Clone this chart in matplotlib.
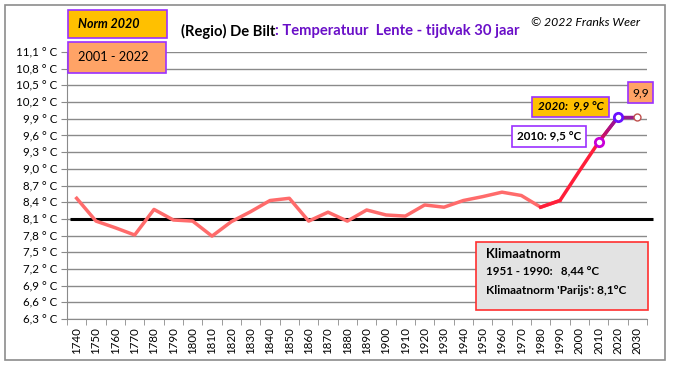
import matplotlib
matplotlib.use("Agg")
import matplotlib.pyplot as plt
from matplotlib.patches import Rectangle
import numpy as np

plt.rcParams['font.family'] = ['Lato', 'DejaVu Sans']

years = [1740, 1750, 1760, 1770, 1780, 1790, 1800, 1810, 1820, 1830,
         1840, 1850, 1860, 1870, 1880, 1890, 1900, 1910, 1920, 1930,
         1940, 1950, 1960, 1970, 1980, 1990, 2000, 2010, 2020, 2030]
temps = [8.47, 8.06, 7.94, 7.81, 8.27, 8.08, 8.06, 7.79, 8.05, 8.23,
         8.43, 8.47, 8.06, 8.22, 8.06, 8.26, 8.17, 8.15, 8.35, 8.31,
         8.43, 8.50, 8.58, 8.52, 8.31, 8.43, 8.96, 9.48, 9.93, 9.93]
norm_paris = 8.1
yticks = [6.3, 6.6, 6.9, 7.2, 7.5, 7.8, 8.1, 8.4, 8.7, 9.0, 9.3, 9.6, 9.9,
          10.2, 10.5, 10.8, 11.1]

W, H = 674, 367
fig = plt.figure(figsize=(W / 100, H / 100), dpi=100)
fig.patch.set_facecolor('white')

def fx(px):
    return px / W

def fy(py):
    return 1 - py / H

# outer border
fig.add_artist(Rectangle((fx(5), fy(360)), fx(660), (355) / H, transform=fig.transFigure,
                         fill=False, edgecolor='#8c8c8c', linewidth=1.2))

ax = fig.add_axes([fx(67), fy(319), fx(647 - 67), (319 - 52) / H])
x = np.arange(len(years))
ax.set_xlim(-0.5, len(years) - 0.5)
ax.set_ylim(6.3, 11.1)

ax.set_yticks(yticks)
ax.set_yticklabels([f"{v:.1f}".replace('.', ',') + " ° C" for v in yticks], fontsize=8.3)
ax.yaxis.grid(True, color='#8a8a8a', linewidth=1.0)
ax.set_axisbelow(True)

ax.set_xticks(x)
ax.set_xticklabels([str(y) for y in years], rotation=90, fontsize=8.3)
ax.set_xticks(np.arange(len(years) + 1) - 0.5, minor=True)
ax.tick_params(axis='x', which='major', length=0, pad=6)
ax.tick_params(axis='x', which='minor', length=4, color='#8a8a8a')
ax.tick_params(axis='y', length=4, color='#8a8a8a', pad=3)

for s in ['top', 'right']:
    ax.spines[s].set_visible(False)
ax.spines['left'].set_color('#8a8a8a')
ax.spines['bottom'].set_color('#8a8a8a')

# norm line
ax.plot([-0.35, len(years) - 0.2], [norm_paris, norm_paris], color='black', linewidth=2.2,
        clip_on=False, zorder=3, solid_capstyle='butt')

# series
i1990 = years.index(1990)
i2010 = years.index(2010)
i2020 = years.index(2020)
ax.plot(x[:i1990 + 1], temps[:i1990 + 1], color='#ff6b6b', linewidth=2.5, zorder=4,
        solid_joinstyle='round')
ax.plot(x[i1990 - 1:i2010 + 1], temps[i1990 - 1:i2010 + 1], color='#ff1f3a', linewidth=2.5,
        zorder=4, solid_joinstyle='round')
n = 20
xs = np.linspace(x[i2010], x[i2020], n + 1)
ys = np.linspace(temps[i2010], temps[i2020], n + 1)
c0 = np.array([0xe0, 0x10, 0x50]) / 255
c1 = np.array([0x90, 0x10, 0xa0]) / 255
for k in range(n):
    t = k / (n - 1)
    ax.plot(xs[k:k + 2], ys[k:k + 2], color=c0 * (1 - t) + c1 * t, linewidth=2.5, zorder=4,
            solid_capstyle='round')
ax.plot(x[i2020:], temps[i2020:], color='#9a1a8a', linewidth=2.5, zorder=4)

ax.plot(x[i2010], temps[i2010], 'o', markersize=6, markerfacecolor='white',
        markeredgecolor='#c800d8', markeredgewidth=2, zorder=6)
ax.plot(x[i2020], temps[i2020], 'o', markersize=6, markerfacecolor='white',
        markeredgecolor='#6a10ff', markeredgewidth=2, zorder=6)
ax.plot(x[-1], temps[-1], 'o', markersize=5, markerfacecolor='white',
        markeredgecolor='#c0504d', markeredgewidth=1, zorder=6)

def fbox(x0, y0, x1, y1, face, edge, lw=1.2):
    fig.add_artist(Rectangle((fx(x0), fy(y1)), fx(x1 - x0), (y1 - y0) / H,
                             transform=fig.transFigure, facecolor=face, edgecolor=edge,
                             linewidth=lw, zorder=10))

fbox(68, 10, 167, 38, '#ffc000', '#9b30ff')
fig.text(fx(78), fy(24), 'Norm 2020', fontsize=9, fontweight='bold', fontstyle='italic',
         va='center', ha='left', zorder=11)
fbox(68, 42, 166, 73, '#ffa366', '#9b30ff')
fig.text(fx(78), fy(57), '2001 - 2022', fontsize=9.2, va='center', ha='left', zorder=11)

t1 = fig.text(fx(181), fy(31), '(Regio) De Bilt', fontsize=10.6, fontweight='bold',
              va='center', ha='left')
renderer = fig.canvas.get_renderer()
bb = t1.get_window_extent(renderer=renderer)
fig.text(bb.x1 / W, fy(31), ': Temperatuur  Lente - tijdvak 30 jaar', fontsize=10.6,
         fontweight='bold', color='#6a0fc8', va='center', ha='left')
fig.text(fx(531), fy(23), '© 2022 Franks Weer', fontsize=8.8, fontstyle='italic',
         va='center', ha='left')

fbox(532, 97, 609, 117, '#ffc000', '#9b30ff')
fig.text(fx(570.5), fy(107), '2020:  9,9 °C', fontsize=8.4, fontweight='bold',
         fontstyle='italic', va='center', ha='center', zorder=11)
fbox(512, 126, 586, 147, 'white', '#9b30ff')
fig.text(fx(549), fy(136.5), '2010: 9,5 °C', fontsize=8.4, fontweight='bold',
         va='center', ha='center', zorder=11)
fbox(628, 82, 653, 103, '#ffa366', '#9b30ff')
fig.text(fx(640.5), fy(92.5), '9,9', fontsize=8.6, va='center', ha='center', zorder=11)

fbox(476, 242, 648, 310, '#e3e3e3', '#ff3030')
fig.text(fx(486), fy(254), 'Klimaatnorm', fontsize=9.3, fontweight='bold', va='center',
         ha='left', zorder=11)
fig.text(fx(486), fy(272), '1951 - 1990:   8,44 °C', fontsize=8.3, fontweight='bold',
         va='center', ha='left', zorder=11)
fig.text(fx(486), fy(290), "Klimaatnorm 'Parijs': 8,1°C", fontsize=8.6, fontweight='bold',
         va='center', ha='left', zorder=11)

fig.savefig('out.png', dpi=100)
